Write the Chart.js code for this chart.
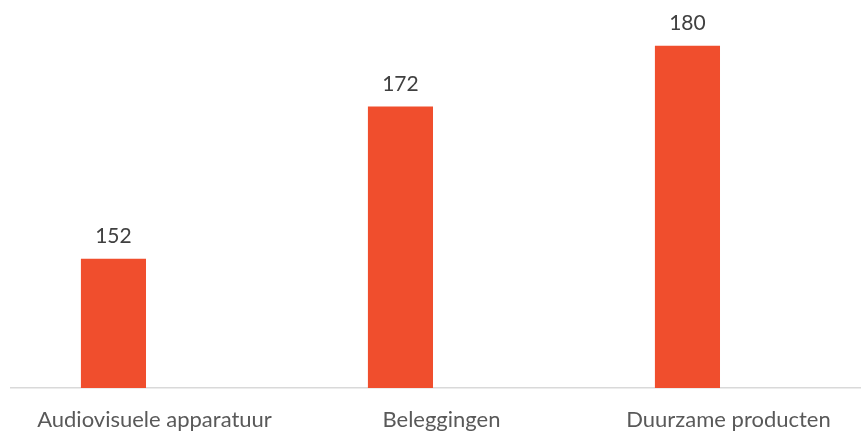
<!DOCTYPE html>
<html>
<head>
<meta charset="utf-8">
<script src="https://cdn.jsdelivr.net/npm/chart.js@4"></script>
<style>
  html, body { margin: 0; padding: 0; background: #fff; overflow: hidden; }
  #wrap { width: 872px; height: 431px; }
</style>
</head>
<body>
<div id="wrap"><canvas id="chart"></canvas></div>
<script>
const categories = ['Audiovisuele apparatuur', 'Beleggingen', 'Duurzame producten'];
const values = [152, 172, 180];
const emptySeries = [null, null, null];

// Value labels above the bars
const valueLabels = {
  id: 'valueLabels',
  afterDatasetsDraw(chart) {
    const ctx = chart.ctx;
    const meta = chart.getDatasetMeta(0);
    ctx.save();
    ctx.font = '21px Lato';
    ctx.fillStyle = '#404040';
    ctx.textAlign = 'center';
    ctx.textBaseline = 'middle';
    meta.data.forEach((bar, i) => {
      ctx.fillText(String(values[i]), bar.x, bar.y - 22);
    });
    ctx.restore();
  }
};

const ctx = document.getElementById('chart').getContext('2d');
new Chart(ctx, {
  type: 'bar',
  data: {
    labels: categories,
    datasets: [
      {
        data: values,
        backgroundColor: '#F04E2D',
        categoryPercentage: 0.572,
        barPercentage: 0.793
      },
      {
        data: emptySeries,
        backgroundColor: '#A5A5A5',
        categoryPercentage: 0.572,
        barPercentage: 0.793
      }
    ]
  },
  options: {
    responsive: true,
    maintainAspectRatio: false,
    animation: false,
    layout: { padding: { left: 11, right: 0, top: 0, bottom: 0 } },
    plugins: {
      legend: { display: false },
      tooltip: { enabled: false }
    },
    scales: {
      x: {
        grid: { display: false, drawTicks: false },
        border: { display: true, color: '#D9D9D9', width: 1.5 },
        ticks: {
          color: '#595959',
          font: { family: 'Lato', size: 22 },
          padding: 19,
          maxRotation: 0,
          autoSkip: false
        },
        afterFit(scale) { scale.height = 43; }
      },
      y: {
        display: false,
        min: 135,
        max: 186
      }
    }
  },
  plugins: [valueLabels]
});
</script>
</body>
</html>
